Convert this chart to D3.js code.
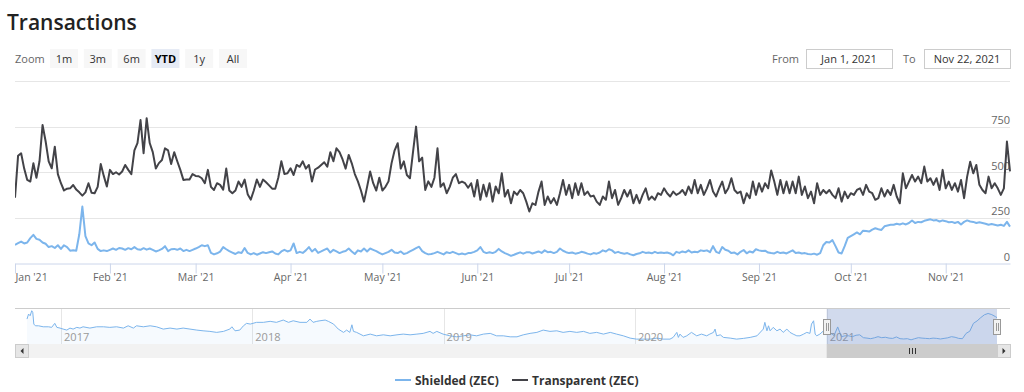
<!DOCTYPE html>
<html>
<head>
<meta charset="utf-8">
<script src="https://cdn.jsdelivr.net/npm/d3@7"></script>
<style>
  html, body { margin: 0; padding: 0; background: #fff; }
  svg { display: block; font-family: "Open Sans", sans-serif; }
</style>
</head>
<body>
<div id="chart"></div>
<script>
// Transactions: shielded vs transparent, daily, YTD view with navigator
const startDate = "2021-01-01";
const endDate = "2021-11-22";
const navStart = "2016-10-28";

// daily values from Jan 1 2021
const transparent = [
    360, 590, 604, 520, 458, 449, 549, 470, 560, 759,
    670, 560, 522, 640, 490, 440, 400, 410, 412, 430,
    405, 390, 372, 390, 440, 388, 385, 420, 545, 480,
    422, 513, 490, 500, 488, 504, 540, 513, 490, 620,
    660, 786, 604, 796, 660, 610, 520, 550, 567, 631,
    620, 545, 610, 560, 513, 458, 460, 460, 490, 480,
    478, 467, 440, 513, 420, 403, 440, 431, 405, 520,
    400, 385, 400, 449, 420, 460, 380, 350, 400, 460,
    420, 460, 445, 428, 410, 410, 470, 560, 490, 494,
    522, 485, 540, 530, 560, 520, 540, 449, 515, 525,
    540, 555, 530, 610, 560, 631, 610, 570, 520, 595,
    549, 490, 450, 400, 339, 420, 504, 440, 400, 470,
    400, 420, 450, 550, 620, 659, 520, 560, 485, 467,
    610, 750, 560, 580, 403, 450, 420, 470, 631, 420,
    440, 385, 420, 470, 490, 440, 449, 440, 415, 440,
    367, 458, 349, 431, 367, 440, 339, 422, 385, 494,
    367, 403, 330, 394, 376, 403, 385, 339, 285, 330,
    321, 394, 449, 321, 367, 330, 358, 321, 385, 458,
    376, 431, 358, 440, 376, 440, 376, 394, 367, 372,
    339, 321, 367, 349, 449, 358, 403, 321, 358, 403,
    367, 403, 330, 376, 330, 376, 412, 349, 367, 349,
    385, 376, 412, 385, 367, 394, 376, 385, 403, 376,
    422, 385, 458, 385, 431, 376, 412, 458, 394, 367,
    412, 449, 385, 412, 467, 403, 385, 394, 330, 385,
    358, 449, 376, 440, 394, 440, 412, 510, 449, 376,
    458, 385, 449, 385, 449, 385, 476, 376, 422, 358,
    394, 330, 440, 376, 403, 385, 403, 376, 358, 412,
    339, 394, 358, 385, 376, 403, 412, 376, 431, 394,
    385, 349, 358, 412, 367, 403, 376, 431, 367, 330,
    494, 412, 449, 485, 449, 476, 440, 531, 449, 467,
    431, 467, 403, 513, 412, 449, 403, 440, 394, 458,
    358, 476, 558, 494, 540, 431, 403, 385, 476, 412,
    440, 412, 376, 412, 668, 505
];

const shielded = [
    102, 111, 120, 110, 115, 139, 157, 135, 130, 115,
    108, 90, 95, 85, 100, 80, 100, 90, 70, 72,
    70, 160, 312, 150, 110, 100, 115, 80, 68, 72,
    68, 75, 82, 75, 85, 82, 75, 84, 78, 90,
    78, 75, 84, 76, 82, 75, 66, 72, 80, 95,
    68, 78, 80, 75, 82, 68, 75, 68, 75, 82,
    90, 100, 95, 100, 58, 50, 56, 65, 90, 78,
    68, 60, 52, 62, 58, 85, 58, 50, 57, 48,
    55, 62, 57, 62, 66, 55, 50, 66, 75, 66,
    72, 110, 57, 64, 58, 72, 90, 66, 80, 58,
    66, 75, 82, 60, 75, 66, 57, 64, 68, 82,
    66, 52, 72, 66, 82, 66, 82, 75, 68, 58,
    50, 57, 64, 75, 60, 57, 66, 52, 57, 66,
    75, 84, 92, 68, 57, 50, 52, 57, 64, 57,
    50, 62, 57, 64, 57, 50, 55, 50, 57, 58,
    64, 72, 90, 64, 57, 62, 57, 64, 80, 66,
    57, 50, 42, 48, 55, 61, 54, 61, 62, 55,
    60, 66, 58, 72, 62, 64, 57, 64, 82, 70,
    62, 57, 60, 54, 57, 64, 60, 54, 50, 57,
    54, 60, 72, 66, 78, 72, 58, 64, 57, 54,
    57, 50, 45, 52, 56, 64, 58, 60, 56, 64,
    57, 60, 57, 60, 55, 45, 64, 58, 66, 61,
    72, 60, 64, 62, 72, 68, 72, 62, 95, 64,
    57, 90, 75, 70, 57, 60, 50, 64, 74, 56,
    66, 60, 78, 72, 68, 70, 60, 57, 55, 64,
    57, 60, 55, 64, 72, 58, 60, 55, 57, 52,
    50, 54, 48, 57, 100, 118, 115, 128, 95, 60,
    55, 95, 140, 150, 160, 170, 160, 180, 178, 175,
    186, 193, 188, 184, 204, 208, 212, 212, 218, 214,
    220, 214, 222, 236, 222, 228, 226, 234, 238, 242,
    236, 238, 230, 236, 232, 226, 228, 222, 228, 214,
    228, 236, 230, 228, 222, 226, 222, 218, 212, 216,
    212, 208, 212, 206, 228, 202
];

// navigator: grouped shielded history
const navDates = [
    "2016-10-28", "2016-10-31", "2016-11-03", "2016-11-06", "2016-11-08", "2016-11-10", "2016-11-13",
    "2016-11-19", "2016-11-28", "2016-12-08", "2016-12-14", "2016-12-20", "2016-12-24", "2016-12-30",
    "2017-01-05", "2017-01-12", "2017-01-18", "2017-01-24", "2017-01-31", "2017-02-06", "2017-02-12",
    "2017-02-25", "2017-03-10", "2017-03-23", "2017-04-04", "2017-04-17", "2017-04-30", "2017-05-09",
    "2017-05-19", "2017-05-25", "2017-06-07", "2017-06-20", "2017-07-02", "2017-07-15", "2017-07-28",
    "2017-08-10", "2017-08-22", "2017-09-04", "2017-09-17", "2017-09-29", "2017-10-12", "2017-10-25",
    "2017-11-07", "2017-11-19", "2017-11-23", "2017-11-29", "2017-12-08", "2017-12-15", "2017-12-21",
    "2017-12-28", "2018-01-09", "2018-01-22", "2018-02-04", "2018-02-16", "2018-03-01", "2018-03-11",
    "2018-03-20", "2018-04-02", "2018-04-15", "2018-04-21", "2018-04-27", "2018-05-04", "2018-05-10",
    "2018-05-20", "2018-05-26", "2018-06-05", "2018-06-14", "2018-06-24", "2018-06-30", "2018-07-06",
    "2018-07-10", "2018-07-13", "2018-07-19", "2018-08-01", "2018-08-14", "2018-08-26", "2018-09-08",
    "2018-09-21", "2018-10-04", "2018-10-16", "2018-10-29", "2018-11-11", "2018-11-23", "2018-12-06",
    "2018-12-12", "2018-12-19", "2018-12-31", "2019-01-13", "2019-01-26", "2019-02-08", "2019-02-20",
    "2019-03-05", "2019-03-18", "2019-03-31", "2019-04-12", "2019-04-25", "2019-05-08", "2019-05-21",
    "2019-06-02", "2019-06-15", "2019-06-28", "2019-07-10", "2019-07-23", "2019-08-05", "2019-08-17",
    "2019-08-30", "2019-09-12", "2019-09-25", "2019-10-07", "2019-10-20", "2019-11-02", "2019-11-15",
    "2019-11-27", "2019-12-10", "2019-12-23", "2020-01-04", "2020-01-17", "2020-01-30", "2020-02-12",
    "2020-02-24", "2020-03-08", "2020-03-14", "2020-03-21", "2020-03-24", "2020-03-27", "2020-04-02",
    "2020-04-09", "2020-04-18", "2020-04-28", "2020-05-07", "2020-05-17", "2020-05-23", "2020-05-30",
    "2020-06-02", "2020-06-05", "2020-06-12", "2020-06-18", "2020-07-01", "2020-07-13", "2020-07-26",
    "2020-08-08", "2020-08-21", "2020-09-02", "2020-09-05", "2020-09-09", "2020-09-12", "2020-09-15",
    "2020-09-21", "2020-09-28", "2020-10-04", "2020-10-10", "2020-10-17", "2020-10-23", "2020-10-29",
    "2020-11-05", "2020-11-11", "2020-11-18", "2020-11-24", "2020-11-30", "2020-12-03", "2020-12-07",
    "2020-12-10", "2020-12-13", "2020-12-19", "2020-12-26",
    "2021-01-01", "2021-01-08", "2021-01-15", "2021-01-22", "2021-01-29", "2021-02-05", "2021-02-12",
    "2021-02-19", "2021-02-26", "2021-03-05", "2021-03-12", "2021-03-19", "2021-03-26", "2021-04-02",
    "2021-04-09", "2021-04-16", "2021-04-23", "2021-04-30", "2021-05-07", "2021-05-14", "2021-05-21",
    "2021-05-28", "2021-06-04", "2021-06-11", "2021-06-18", "2021-06-25", "2021-07-02", "2021-07-09",
    "2021-07-16", "2021-07-23", "2021-07-30", "2021-08-06", "2021-08-13", "2021-08-20", "2021-08-27",
    "2021-09-03", "2021-09-10", "2021-09-17", "2021-09-24", "2021-10-01", "2021-10-08", "2021-10-15",
    "2021-10-22", "2021-10-29", "2021-11-05", "2021-11-12", "2021-11-19", "2021-11-22"
];
const navValues = [
    195, 230, 218, 253, 242, 160, 148,
    148, 141, 141, 137, 165, 137, 132,
    125, 118, 132, 125, 137, 132, 141,
    132, 141, 141, 137, 141, 132, 148,
    132, 148, 141, 148, 141, 125, 132,
    125, 132, 125, 118, 113, 109, 102,
    109, 125, 141, 113, 118, 148, 165,
    160, 172, 172, 179, 172, 188, 172,
    183, 172, 172, 195, 172, 179, 183,
    188, 179, 160, 125, 102, 118, 102,
    155, 109, 102, 78, 90, 78, 85,
    78, 85, 90, 85, 90, 95, 109,
    95, 109, 90, 78, 71, 78, 85,
    78, 90, 95, 78, 78, 71, 71,
    85, 95, 102, 118, 109, 113, 102,
    109, 102, 109, 95, 102, 90, 102,
    90, 78, 62, 55, 55, 55, 62,
    55, 55, 67, 102, 67, 90, 67,
    78, 102, 78, 90, 78, 90, 102,
    125, 78, 85, 67, 62, 55, 60,
    67, 78, 125, 172, 113, 148, 113,
    137, 113, 125, 102, 125, 102, 90,
    78, 78, 90, 102, 95, 160, 183,
    90, 78, 90, 113,
    118, 100, 80, 140, 72, 78, 78,
    72, 82, 85, 65, 62, 58, 64,
    72, 65, 68, 62, 60, 70, 58,
    56, 58, 50, 58, 65, 62, 60,
    58, 62, 60, 56, 60, 64, 72,
    68, 60, 58, 95, 110, 165, 182,
    205, 225, 234, 226, 212, 205
];

const yTicks = [0, 250, 500, 750, 1000];
const yTickLabels = ["0", "250", "500", "750", ""];
const zoomButtons = ["1m", "3m", "6m", "YTD", "1y", "All"];
const selectedButton = "YTD";
const seriesNames = ["Shielded (ZEC)", "Transparent (ZEC)"];
const seriesColors = ["#7cb5ec", "#434348"];

{
    const W = 1024, H = 392;
    const plot = { left: 15, right: 1010, top: 81, bottom: 263.5 };
    const nav = { left: 15, right: 1010, top: 308, bottom: 344, dataLeft: 27, dataRight: 997 };
    const parse = d3.timeParse("%Y-%m-%d");
    const t0 = parse(startDate), t1 = parse(endDate);

    const svg = d3.select("#chart").append("svg")
        .attr("width", W).attr("height", H);

    // title
    svg.append("text")
        .attr("x", 7).attr("y", 30)
        .attr("font-size", "21px").attr("font-weight", 600).attr("fill", "#222")
        .text("Transactions");

    // range selector
    svg.append("text").attr("x", 15).attr("y", 63)
        .attr("font-size", "11px").attr("fill", "#666").text("Zoom");

    const btn = svg.selectAll(".btn").data(zoomButtons).enter().append("g")
        .attr("class", "btn")
        .attr("transform", (d, i) => `translate(${50 + i * 33.8},49)`);
    btn.append("rect")
        .attr("width", 28).attr("height", 19)
        .attr("fill", d => d === selectedButton ? "#e6ebf5" : "#f7f7f7");
    btn.append("text")
        .attr("x", 14).attr("y", 13.5).attr("text-anchor", "middle")
        .attr("font-size", "11px")
        .attr("font-weight", d => d === selectedButton ? 700 : 400)
        .attr("fill", d => d === selectedButton ? "#000" : "#333")
        .text(d => d);

    const fmtInput = d3.timeFormat("%b %-d, %Y");
    const inputs = [
        { label: "From", lx: 772, bx: 806, date: t0 },
        { label: "To", lx: 903, bx: 924, date: t1 }
    ];
    inputs.forEach(d => {
        svg.append("text").attr("x", d.lx).attr("y", 63)
            .attr("font-size", "11px").attr("fill", "#666").text(d.label);
        svg.append("rect").attr("x", d.bx + 0.5).attr("y", 49.5)
            .attr("width", 86).attr("height", 19)
            .attr("fill", "#fff").attr("stroke", "#cccccc");
        svg.append("text").attr("x", d.bx + 43).attr("y", 63)
            .attr("text-anchor", "middle").attr("font-size", "11px").attr("fill", "#333")
            .text(fmtInput(d.date));
    });

    // main scales
    const x = d3.scaleTime().domain([t0, t1]).range([plot.left, plot.right]);
    const y = d3.scaleLinear().domain([0, 1000]).range([plot.bottom, plot.top]);

    // grid + y labels
    svg.append("g").selectAll("line").data(yTicks.filter(v => v > 0)).enter().append("line")
        .attr("x1", plot.left).attr("x2", plot.right)
        .attr("y1", d => Math.round(y(d)) + 0.5).attr("y2", d => Math.round(y(d)) + 0.5)
        .attr("stroke", "#e6e6e6");
    svg.append("g").selectAll("text").data(yTicks).enter().append("text")
        .attr("x", plot.right).attr("y", d => y(d) - 2.5)
        .attr("text-anchor", "end").attr("font-size", "11px").attr("fill", "#666")
        .text((d, i) => yTickLabels[i]);

    // x axis
    const xAxis = svg.append("g")
        .attr("transform", `translate(0,${plot.bottom})`)
        .call(d3.axisBottom(x)
            .ticks(d3.timeMonth.every(1))
            .tickFormat(d3.timeFormat("%b '%y"))
            .tickSize(10).tickPadding(0).tickSizeOuter(0));
    xAxis.select(".domain").attr("stroke", "#ccd6eb");
    xAxis.selectAll(".tick line").attr("stroke", "#ccd6eb");
    xAxis.selectAll(".tick text")
        .attr("font-family", "Open Sans, sans-serif").attr("font-size", "10.5px").attr("fill", "#666")
        .attr("text-anchor", (d, i) => i === 0 ? "start" : "middle");

    // series
    const days = transparent.map((v, i) => d3.timeDay.offset(t0, i));
    svg.append("clipPath").attr("id", "plotClip").append("rect")
        .attr("x", plot.left).attr("y", plot.top - 5)
        .attr("width", plot.right - plot.left + 1).attr("height", plot.bottom - plot.top + 5);

    const line = d3.line().x(d => x(d[0])).y(d => y(d[1]));
    [shielded, transparent].forEach((vals, k) => {
        svg.append("path")
            .datum(vals.map((v, i) => [days[i], v]))
            .attr("clip-path", "url(#plotClip)")
            .attr("fill", "none").attr("stroke", seriesColors[k])
            .attr("stroke-width", 2).attr("stroke-linejoin", "round")
            .attr("d", line);
    });

    // navigator
    const nd = navDates.map(parse);
    const nx = d3.scaleTime().domain([parse(navStart), t1]).range([nav.dataLeft, nav.dataRight]);
    const ny = d3.scaleLinear().domain([0, 300]).range([347, 304]);

    svg.append("g").selectAll("line").data(nx.ticks(d3.timeYear.every(1))).enter().append("line")
        .attr("x1", d => Math.round(nx(d)) + 0.5).attr("x2", d => Math.round(nx(d)) + 0.5)
        .attr("y1", nav.top).attr("y2", nav.bottom)
        .attr("stroke", "#e6e6e6");

    const navPts = navValues.map((v, i) => [nd[i], v]);
    svg.append("path").datum(navPts)
        .attr("fill", "rgba(124,181,236,0.07)")
        .attr("d", d3.area().x(d => nx(d[0])).y0(nav.bottom).y1(d => ny(d[1])));
    svg.append("path").datum(navPts)
        .attr("fill", "none").attr("stroke", "#7cb5ec").attr("stroke-width", 1)
        .attr("d", d3.line().x(d => nx(d[0])).y(d => ny(d[1])));

    svg.append("g").selectAll("text").data(nx.ticks(d3.timeYear.every(1))).enter().append("text")
        .attr("x", d => nx(d) + 3).attr("y", 341)
        .attr("font-size", "11px").attr("fill", "#999")
        .text(d3.timeFormat("%Y"));

    const mx0 = nx(t0), mx1 = nx(t1);
    svg.append("rect")
        .attr("x", mx0).attr("y", nav.top)
        .attr("width", mx1 - mx0).attr("height", nav.bottom - nav.top)
        .attr("fill", "rgba(102,133,194,0.3)");
    svg.append("line")
        .attr("x1", nav.left).attr("x2", nav.right)
        .attr("y1", nav.top + 0.5).attr("y2", nav.top + 0.5)
        .attr("stroke", "#cccccc");

    [mx0, mx1].forEach(hx => {
        const g = svg.append("g").attr("transform", `translate(${Math.round(hx)},319)`);
        g.append("rect").attr("x", -3.5).attr("y", 0.5).attr("width", 7).attr("height", 15)
            .attr("fill", "#f2f2f2").attr("stroke", "#999");
        [-1, 1].forEach(o => g.append("line")
            .attr("x1", o + 0.5).attr("x2", o + 0.5).attr("y1", 4).attr("y2", 12)
            .attr("stroke", "#999"));
    });

    // scrollbar
    const sb = { top: 344, h: 14 };
    svg.append("rect").attr("x", nav.left).attr("y", sb.top)
        .attr("width", nav.right - nav.left).attr("height", sb.h).attr("fill", "#f2f2f2");
    svg.append("rect").attr("x", mx0).attr("y", sb.top)
        .attr("width", mx1 - mx0).attr("height", sb.h).attr("fill", "#cccccc");
    const gx = Math.round((mx0 + mx1) / 2);
    [-3, 0, 3].forEach(o => svg.append("line")
        .attr("x1", gx + o + 0.5).attr("x2", gx + o + 0.5)
        .attr("y1", sb.top + 4).attr("y2", sb.top + 10)
        .attr("stroke", "#333").attr("stroke-width", 1));
    [{ x: nav.left, dir: -1 }, { x: nav.right - 13, dir: 1 }].forEach(b => {
        svg.append("rect").attr("x", b.x + 0.5).attr("y", sb.top + 0.5)
            .attr("width", 13).attr("height", sb.h - 1)
            .attr("fill", "#e6e6e6").attr("stroke", "#cccccc");
        const cx = b.x + 7, cy = sb.top + 7;
        svg.append("path")
            .attr("d", `M${cx - 1.5 * b.dir},${cy - 3}L${cx + 1.5 * b.dir},${cy}L${cx - 1.5 * b.dir},${cy + 3}Z`)
            .attr("fill", "#333");
    });

    // legend
    const legendX = [395, 512];
    const lg = svg.selectAll(".legend").data(seriesNames).enter().append("g")
        .attr("class", "legend")
        .attr("transform", (d, i) => `translate(${legendX[i]},380)`);
    lg.append("line").attr("x1", 0).attr("x2", 16).attr("y1", 0).attr("y2", 0)
        .attr("stroke", (d, i) => seriesColors[i]).attr("stroke-width", 2);
    lg.append("text").attr("x", 20).attr("y", 4.5)
        .attr("font-size", "12px").attr("font-weight", 700).attr("fill", "#333")
        .text(d => d);
}
</script>
</body>
</html>
